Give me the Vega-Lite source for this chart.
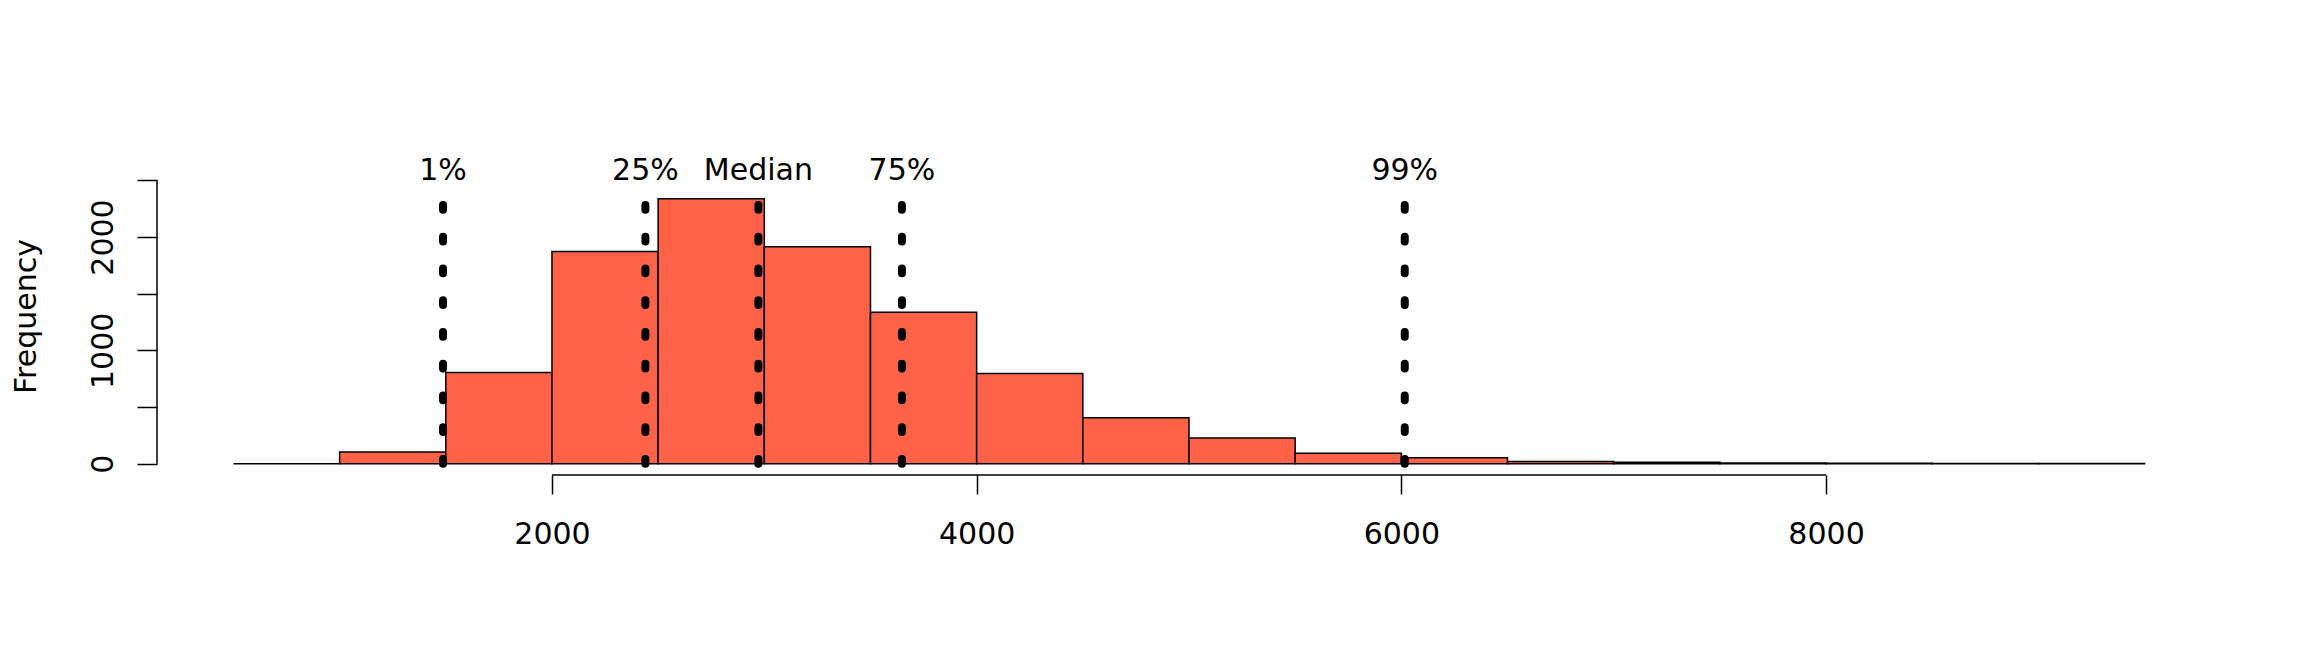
{
  "$schema": "https://vega.github.io/schema/vega-lite/v6.json",
  "width": 2064,
  "height": 306,
  "autosize": {"type": "none"},
  "padding": {"left": 157, "top": 169, "right": 83, "bottom": 197},
  "background": "white",
  "datasets": {
    "bins": [
      {"bin_start": 500, "bin_end": 1000, "count": 0},
      {"bin_start": 1000, "bin_end": 1500, "count": 104},
      {"bin_start": 1500, "bin_end": 2000, "count": 805},
      {"bin_start": 2000, "bin_end": 2500, "count": 1872},
      {"bin_start": 2500, "bin_end": 3000, "count": 2337},
      {"bin_start": 3000, "bin_end": 3500, "count": 1915},
      {"bin_start": 3500, "bin_end": 4000, "count": 1335},
      {"bin_start": 4000, "bin_end": 4500, "count": 795},
      {"bin_start": 4500, "bin_end": 5000, "count": 405},
      {"bin_start": 5000, "bin_end": 5500, "count": 227},
      {"bin_start": 5500, "bin_end": 6000, "count": 91},
      {"bin_start": 6000, "bin_end": 6500, "count": 53},
      {"bin_start": 6500, "bin_end": 7000, "count": 20},
      {"bin_start": 7000, "bin_end": 7500, "count": 12},
      {"bin_start": 7500, "bin_end": 8000, "count": 6},
      {"bin_start": 8000, "bin_end": 8500, "count": 3},
      {"bin_start": 8500, "bin_end": 9000, "count": 2},
      {"bin_start": 9000, "bin_end": 9500, "count": 2}
    ],
    "quantiles": [
      {"label": "1%", "value": 1487},
      {"label": "25%", "value": 2440},
      {"label": "Median", "value": 2972},
      {"label": "75%", "value": 3648},
      {"label": "99%", "value": 6016}
    ]
  },
  "layer": [
    {
      "data": {"name": "bins"},
      "mark": {"type": "rect", "fill": "#FF6347", "stroke": "black", "strokeWidth": 1.5},
      "encoding": {
        "x": {
          "field": "bin_start",
          "type": "quantitative",
          "scale": {"domain": [140, 9860], "nice": false, "zero": false},
          "axis": {
            "values": [2000, 4000, 6000, 8000],
            "format": "d",
            "tickSize": 19,
            "labelPadding": 25,
            "labelBaseline": "top",
            "labelFlush": false,
            "title": null
          }
        },
        "x2": {"field": "bin_end"},
        "y": {
          "field": "count",
          "type": "quantitative",
          "scale": {"domain": [-100, 2600], "nice": false, "zero": false},
          "axis": {
            "values": [0, 500, 1000, 1500, 2000, 2500],
            "format": "d",
            "labelExpr": "datum.value % 1000 === 0 ? datum.label : ''",
            "labelOverlap": false,
            "tickSize": 20,
            "labelAngle": -90,
            "labelAlign": "center",
            "labelBaseline": "alphabetic",
            "labelPadding": 25,
            "title": "Frequency",
            "titleAngle": -90,
            "titleX": -122,
            "titleY": 147,
            "titleAlign": "center",
            "titleBaseline": "alphabetic",
            "titleFont": "DejaVu Sans",
            "titleFontSize": 30,
            "titleFontWeight": "normal",
            "titleColor": "black"
          }
        },
        "y2": {"datum": 0}
      }
    },
    {
      "data": {"values": [{}]},
      "mark": {"type": "rule", "stroke": "black", "strokeWidth": 1.5},
      "encoding": {
        "x": {"datum": 140, "type": "quantitative"},
        "y": {"datum": 0, "type": "quantitative"},
        "y2": {"datum": 2500}
      }
    },
    {
      "data": {"values": [{}]},
      "mark": {"type": "rule", "stroke": "black", "strokeWidth": 1.5},
      "encoding": {
        "x": {"datum": 2000, "type": "quantitative"},
        "x2": {"datum": 8000},
        "y": {"datum": -100, "type": "quantitative"}
      }
    },
    {
      "data": {"name": "quantiles"},
      "mark": {"type": "rule", "stroke": "black", "strokeWidth": 8, "strokeDash": [4.7, 27.05], "strokeCap": "round"},
      "encoding": {
        "x": {"field": "value", "type": "quantitative"},
        "y": {"datum": 0, "type": "quantitative"},
        "y2": {"datum": 2310}
      }
    },
    {
      "data": {"name": "quantiles"},
      "mark": {"type": "text", "font": "DejaVu Sans", "fontSize": 30, "align": "center", "baseline": "alphabetic", "fill": "black"},
      "encoding": {
        "x": {"field": "value", "type": "quantitative"},
        "y": {"datum": 2500, "type": "quantitative"},
        "text": {"field": "label"}
      }
    }
  ],
  "config": {
    "view": {"stroke": null},
    "axis": {
      "domain": false,
      "grid": false,
      "ticks": true,
      "tickColor": "black",
      "tickWidth": 1.5,
      "labelFont": "DejaVu Sans",
      "labelFontSize": 30,
      "labelColor": "black"
    }
  }
}
